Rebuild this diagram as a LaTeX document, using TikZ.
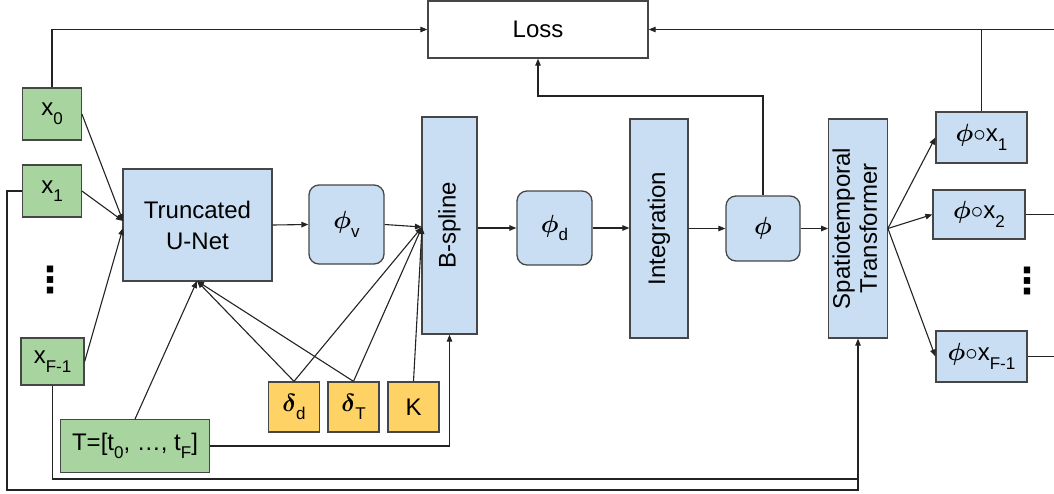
\documentclass[tikz,border=0pt]{standalone}
\usepackage{fontspec}
\setmainfont{Liberation Sans}
\newfontfamily\dejavu{DejaVu Sans}
\usepackage{amsmath}
\usepackage{graphicx}
\usetikzlibrary{arrows.meta}

\definecolor{boxblue}{RGB}{201,222,242}
\definecolor{boxgreen}{RGB}{168,212,160}
\definecolor{boxorange}{RGB}{255,210,102}
\definecolor{edgegray}{RGB}{70,70,70}
\definecolor{wiregray}{RGB}{35,35,35}

% lowered, smaller subscript in the sans text
\newcommand{\lsub}[1]{\raisebox{-0.36em}{\fontsize{17}{17}\selectfont #1}}
\newcommand{\bphi}{{\fontsize{26}{30}\selectfont$\boldsymbol{\phi}$}}
\newcommand{\bdelta}{{\fontsize{26}{30}\selectfont$\boldsymbol{\delta}$}}

\begin{document}
\begin{tikzpicture}[x=1pt,y=-1pt,
  every node/.style={font=\fontsize{24}{30}\selectfont},
  sz/.style 2 args={minimum width=#1pt, minimum height=#2pt},
  blk/.style={draw=edgegray, line width=1.3pt, inner sep=0pt, align=center, text=black},
  bluebox/.style={blk, fill=boxblue},
  greenbox/.style={blk, fill=boxgreen},
  orangebox/.style={blk, fill=boxorange},
  roundbox/.style={bluebox, rounded corners=10pt},
  wire/.style={draw=wiregray, line width=1.1pt},
  arr/.style={wire, -{Triangle[length=7pt,width=5.5pt]}},
  vdots/.style={inner sep=0pt, font=\dejavu\bfseries\fontsize{36}{36}\selectfont}
]
\useasboundingbox (0,0) rectangle (1054,493);

% loss
\node[blk, fill=white, sz={220}{57}] (loss) at (538,29.5) {Loss};

% input frames and time stamps
\node[greenbox, sz={58.5}{52}] (x0) at (52,114) {x\lsub{0}};
\node[greenbox, sz={58.5}{52}] (x1) at (52,191) {x\lsub{1}};
\node[vdots] (dotsl) at (50,280) {⋮};
\node[greenbox, sz={63}{47}] (xF) at (52.5,361.5) {x\lsub{F-1}};
\node[greenbox, sz={148.5}{52.5}] (T) at (135,446) {T=[t\lsub{0}, \dots, t\lsub{F}]};

% network
\node[bluebox, sz={149}{112}] (unet) at (197.5,225) {Truncated\\[1pt]U-Net};
\node[roundbox, sz={75}{79}] (phiv) at (346.5,224.5) {\bphi\lsub{v}};
\node[bluebox, sz={55}{217}] (bsp) at (449.5,225.5) {\rotatebox{90}{B-spline}};
\node[roundbox, sz={75}{74}] (phid) at (554.5,228) {\bphi\lsub{d}};
\node[bluebox, sz={58}{219}] (integ) at (659,228.5) {\rotatebox{90}{Integration}};
\node[roundbox, sz={74}{65}] (phi) at (763,228.5) {\bphi};
\node[bluebox, sz={58.5}{219}] (st) at (858,228.5)
  {\rotatebox{90}{\fontsize{24}{27}\selectfont\begin{tabular}{@{}c@{}}Spatiotemporal\\Transformer\end{tabular}}};

% hyper-parameters
\node[orangebox, sz={51.5}{50}] (dd) at (294,407) {\bdelta\lsub{d}};
\node[orangebox, sz={51}{50}] (dT) at (353.5,407) {\bdelta\lsub{T}};
\node[orangebox, sz={51}{50}] (K) at (413.5,407) {K};

% warped frames
\node[bluebox, sz={91}{51}] (ox1) at (981.5,137.5) {\bphi$\circ$x\lsub{1}};
\node[bluebox, sz={92}{49}] (ox2) at (979,214.5) {\bphi$\circ$x\lsub{2}};
\node[vdots] (dotsr) at (1027,281) {⋮};
\node[bluebox, sz={91}{51}] (oxF) at (981.5,356.5) {\bphi$\circ$x\lsub{F-1}};

% junction points
\coordinate (uin) at (123,221);
\coordinate (uin2) at (123,228);
\coordinate (ubot) at (197,281);
\coordinate (bin) at (422,227);
\coordinate (lturn) at (538,96);
\coordinate (rtop) at (1054,29.5);
\coordinate (r2) at (1054,214.5);
\coordinate (r3) at (1054,356.5);
\coordinate (lpo) at (7,490);
\coordinate (lpi) at (858,479);

% inputs of the U-Net
\draw[arr] (x0.east) -- (uin);
\draw[arr] (x1.east) -- (uin);
\draw[arr] (xF.east) -- (uin2);
\draw[arr] (T.north) -- (ubot);
\draw[arr] (dd.north) -- (ubot);
\draw[arr] (dT.north) -- (ubot);

% inputs of the B-spline
\draw[arr] (phiv.east) -- (bin);
\draw[arr] (dd.north) -- (bin);
\draw[arr] (dT.north) -- (bin);
\draw[arr] (K.north) -- (bin);
\draw[arr] (T.east) -| (bsp.south);

% main chain
\draw[arr] (unet.east) -- (phiv.west);
\draw[arr] (bsp.east |- phid.west) -- (phid.west);
\draw[arr] (phid.east) -- (integ.west |- phid.east);
\draw[arr] (integ.east) -- (phi.west);
\draw[arr] (phi.east) -- (st.west);
\draw[arr] (st.east) -- (ox1.west);
\draw[arr] (st.east) -- (ox2.west);
\draw[arr] (st.east) -- (oxF.west);

% loss terms
\draw[arr] (x0.north) |- (loss.west);
\draw[arr] (phi.north) |- (lturn) -- (loss.south);
\draw[arr] (rtop) -- (loss.east);
\draw[wire] (ox1.north) -- (ox1.north |- rtop);
\draw[wire] (ox2.east) -- (r2);
\draw[wire] (oxF.east) -- (r3);

% frames fed to the transformer
\draw[arr] (x1.west) -| (lpo) -| (st.south);
\draw[wire] (xF.south) |- (lpi);
\end{tikzpicture}
\end{document}
